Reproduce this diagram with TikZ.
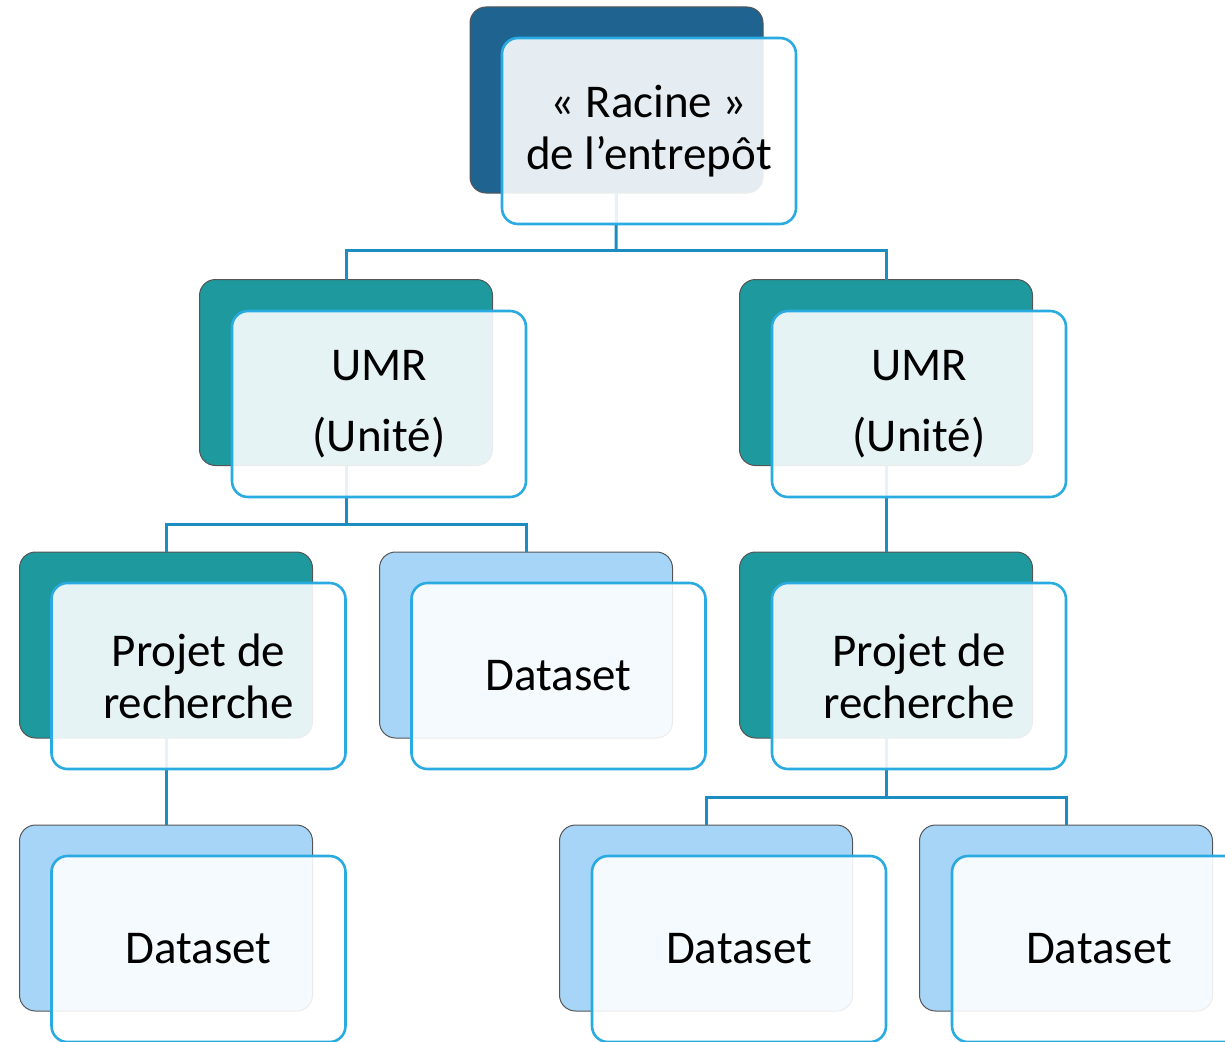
\documentclass[tikz,border=0pt]{standalone}
\usepackage{fontspec}
\setmainfont{Carlito}
\definecolor{rootblue}{RGB}{31,99,145}
\definecolor{unitteal}{RGB}{30,153,158}
\definecolor{datablue}{RGB}{166,213,247}
\definecolor{frameblue}{RGB}{41,171,226}
\definecolor{linkblue}{RGB}{29,140,192}
\definecolor{edgegray}{RGB}{85,85,85}
\tikzset{
  backbox/.style={draw=edgegray, line width=1pt, rounded corners=16pt,
    minimum width=293pt, minimum height=186pt, inner sep=0pt, outer sep=0pt},
  frontbox/.style={draw=frameblue, line width=2.6pt, rounded corners=16pt,
    fill=white, fill opacity=0.89, text opacity=1, text=black,
    minimum width=294pt, minimum height=186pt, inner sep=0pt, outer sep=0pt,
    align=center, font=\fontsize{47}{52}\selectfont},
  link/.style={draw=linkblue, line width=3pt},
}
\begin{document}
\begin{tikzpicture}[x=1pt, y=-1pt]
\useasboundingbox (0,0) rectangle (1225,1041);
\clip (0,0) rectangle (1225,1041);

% bus coordinates of the tree connectors
\coordinate (busA) at (616,250);
\coordinate (busB) at (346,524);
\coordinate (busC) at (886,797);

% back boxes
\node[backbox, fill=rootblue] (root) at (616.5,100) {};
\node[backbox, fill=unitteal] (umrL) at (346,372.5) {};
\node[backbox, fill=unitteal] (umrR) at (886,372.5) {};
\node[backbox, fill=unitteal] (prjL) at (166,645) {};
\node[backbox, fill=datablue] (dsA) at (526,645) {};
\node[backbox, fill=unitteal] (prjR) at (886,645) {};
\node[backbox, fill=datablue] (dsB) at (166,918) {};
\node[backbox, fill=datablue] (dsC) at (706,918) {};
\node[backbox, fill=datablue] (dsD) at (1066,918) {};

% connectors
\draw[link] (root.south) -- (busA);
\draw[link] (umrL.north) |- (busA) -| (umrR.north);
\draw[link] (umrL.south) -- (busB);
\draw[link] (prjL.north) |- (busB) -| (dsA.north);
\draw[link] (umrR.south) -- (prjR.north);
\draw[link] (prjL.south) -- (dsB.north);
\draw[link] (prjR.south) -- (busC);
\draw[link] (dsC.north) |- (busC) -| (dsD.north);

% front boxes with labels
\node[frontbox] (rootT) at (649,131) {« Racine »\\de l’entrepôt};
\node[frontbox, font=\fontsize{47}{71}\selectfont] (umrLT) at (379,404) {UMR\\(Unité)};
\node[frontbox, font=\fontsize{47}{71}\selectfont] (umrRT) at (919,404) {UMR\\(Unité)};
\node[frontbox] (prjLT) at (198.5,676) {Projet de\\recherche};
\node[frontbox] (dsAT) at (558.5,676) {Dataset};
\node[frontbox] (prjRT) at (919,676) {Projet de\\recherche};
\node[frontbox] (dsBT) at (198.5,949) {Dataset};
\node[frontbox] (dsCT) at (739,949) {Dataset};
\node[frontbox] (dsDT) at (1099,949) {Dataset};
\end{tikzpicture}
\end{document}
